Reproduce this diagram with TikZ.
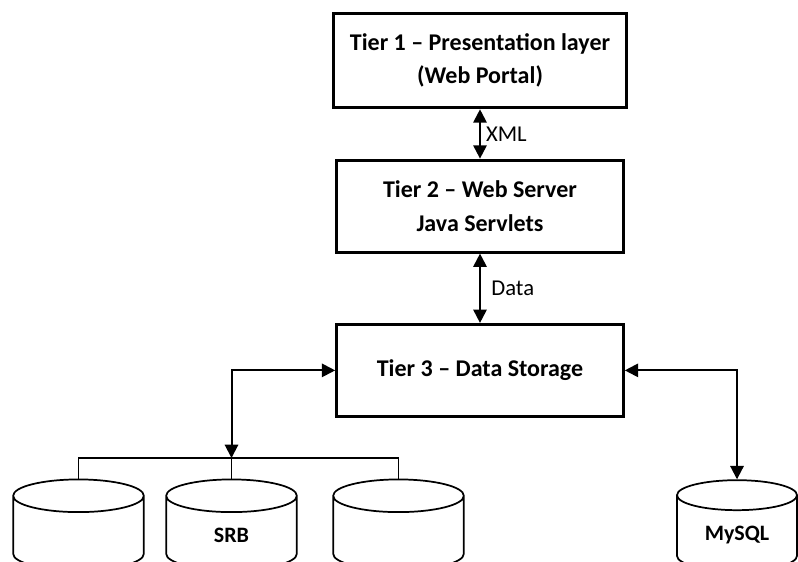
\documentclass[tikz,border=0pt]{standalone}
\usepackage{fontspec}
\setmainfont{Carlito}
\usepackage{tikz}
\usetikzlibrary{shapes.geometric, arrows.meta, positioning, calc}

\begin{document}
\begin{tikzpicture}[
    x=0.75pt, y=-0.75pt,
    tier/.style={rectangle, draw, line width=2.2pt, minimum width=215pt, minimum height=69pt, align=center, font=\fontsize{18}{25}\selectfont\bfseries},
    store/.style={cylinder, draw, line width=1.3pt, shape border rotate=90, aspect=0.25, text width=96pt, inner sep=1pt, align=center, minimum height=68pt, font=\fontsize{16.5}{19}\selectfont\bfseries},
    label/.style={font=\fontsize{17}{20}\selectfont},
    arrow/.style={{Triangle[length=10pt,width=10pt]}-{Triangle[length=10pt,width=10pt]}, line width=1.5pt}
]
\useasboundingbox (0,0) rectangle (798,561);

% Tiers
\node[tier, minimum width=220pt, minimum height=71pt] (web) at (480,60.5) {Tier 1 -- Presentation layer\\(Web Portal)};
\node[tier, below=37pt of web] (server) {Tier 2 -- Web Server\\Java Servlets};
\node[tier, below=52pt of server] (storage) {Tier 3 -- Data Storage};

% Databases
\node[store] (db1) at (78.5,535) {};
\node[store] (srb) at (231.5,535) {SRB};
\node[store] (db3) at (398.5,535) {};
\node[store, text width=88pt] (mysql) at (737,535) {MySQL};

% Arrows
\draw[arrow] (web) -- (server);
\draw[arrow] (server) -- (storage);
\coordinate (bus) at (srb.north |- 0,458);
\draw[arrow] (storage.west) -| (bus);
\draw[arrow] (storage.east) -| (mysql.north);
\draw[line width=1pt] (db1.north) |- (db3.north |- bus) -- (db3.north);
\draw[line width=1pt] (bus) -- (srb.north);

% Labels
\node[label, right=1pt of $(web.south)!0.5!(server.north)$] {XML};
\node[label, right=5pt of $(server.south)!0.5!(storage.north)$] {Data};

\end{tikzpicture}
\end{document}
